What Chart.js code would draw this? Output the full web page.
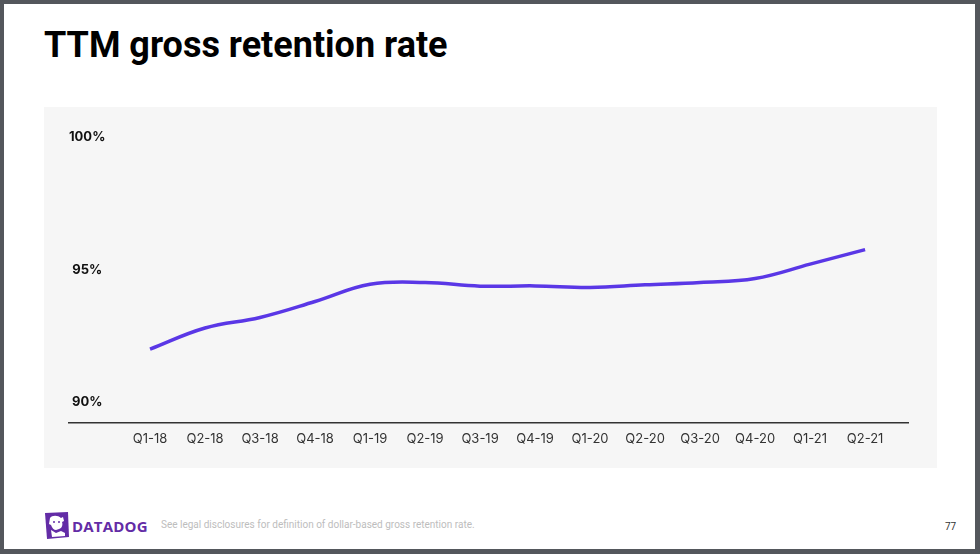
<!DOCTYPE html>
<html>
<head>
<meta charset="utf-8">
<script src="https://cdn.jsdelivr.net/npm/chart.js@4.4.1/dist/chart.umd.min.js"></script>
<style>
  html, body { margin: 0; padding: 0; }
  body { width: 980px; height: 554px; background: #54575c; position: relative; overflow: hidden; }
  #slide { position: absolute; left: 4px; top: 4px; width: 971px; height: 545px; background: #fff; }
  #title { position: absolute; left: 40px; top: 20px; margin: 0; font: bold 36px Roboto, sans-serif; color: #000; letter-spacing: 0; }
  #panel { position: absolute; left: 40px; top: 103px; width: 893px; height: 361px; background: #f6f6f6; }
  #chartWrap { position: absolute; left: 0; top: 0; width: 893px; height: 361px; }
  #logo { position: absolute; left: 40px; top: 508px; }
  #brand { position: absolute; left: 68px; top: 512px; font: bold 15px "Open Sans", sans-serif; color: #632ca6; letter-spacing: 0.2px; }
  #note { position: absolute; left: 157px; top: 515px; font: 10px Roboto, sans-serif; color: #bdbdbd; }
  #page { position: absolute; left: 941px; top: 517px; font: 10px Roboto, sans-serif; color: #333; }
</style>
</head>
<body>
<div id="slide">
  <h1 id="title">TTM gross retention rate</h1>
  <div id="panel">
    <div id="chartWrap"><canvas id="lineChart"></canvas></div>
  </div>
  <svg id="logo" width="26" height="28" viewBox="0 0 26 28">
    <polygon points="1,1 24,0 25,25 3,27" fill="#632ca6"/>
    <path d="M6,6 C8,3 14,3 17,6 L19,5 L20,9 L18,10 C19,13 18,16 15,17 L12,18 C10,18 8,16 7,13 L5,12 Z" fill="#fff"/>
    <path d="M7,18 L12,21 L17,19 L21,21 L21,24 L8,25 Z" fill="#fff"/>
    <circle cx="10" cy="10" r="1" fill="#632ca6"/>
    <circle cx="15" cy="10" r="1" fill="#632ca6"/>
  </svg>
  <div id="brand">DATADOG</div>
  <div id="note">See legal disclosures for definition of dollar-based gross retention rate.</div>
  <div id="page">77</div>
</div>
<script>
// 四半期ラベルと値（%）
const quarters = ['Q1-18','Q2-18','Q3-18','Q4-18','Q1-19','Q2-19','Q3-19','Q4-19','Q1-20','Q2-20','Q3-20','Q4-20','Q1-21','Q2-21'];
const retention = [92.0, 92.8, 93.2, 93.8, 94.45, 94.52, 94.38, 94.39, 94.33, 94.43, 94.52, 94.67, 95.21, 95.76];
const yTicks = [90, 95, 100];
const yTickLabels = ['90%', '95%', '100%'];

window.onload = function(){
    const ctx = document.getElementById('lineChart');
    const points = [];
    for (let i = 0; i < quarters.length; i++) {
        points.push({x: i, y: retention[i]});
    }

    let config = {
      type: 'line',
      data: {
        datasets: [{
          data: points,
          borderColor: '#5a37e6',
          borderWidth: 3.5,
          pointRadius: 0,
          tension: 0.4,
          fill: false,
        }],
      },
      options: {
        responsive: false,
        animation: false,
        layout: {
          padding: {left: 25, right: 29, top: 17, bottom: 13.5},
        },
        plugins: {
          legend: {display: false},
          tooltip: {enabled: false},
        },
        scales: {
          x: {
            type: 'linear',
            min: -1.473,
            max: 13.78,
            afterBuildTicks: function(axis){
              axis.ticks = quarters.map(function(q, i){ return {value: i}; });
            },
            ticks: {
              autoSkip: false,
              maxRotation: 0,
              padding: 8,
              color: '#333',
              font: {family: 'Inter', size: 13},
              callback: function(value){ return quarters[value]; },
            },
            grid: {display: false, drawTicks: false},
            border: {display: true, color: '#333', width: 1.5},
          },
          y: {
            min: 89.22,
            max: 100.5,
            afterBuildTicks: function(axis){
              axis.ticks = yTicks.map(function(v){ return {value: v}; });
            },
            ticks: {
              mirror: true,
              padding: 0,
              crossAlign: 'center',
              color: '#111',
              font: {family: 'Inter', size: 13, weight: 'bold'},
              callback: function(value){ return yTickLabels[yTicks.indexOf(value)]; },
            },
            grid: {display: false, drawTicks: false},
            border: {display: false},
          },
        },
      },
    };
    ctx.width = 893;
    ctx.height = 361;
    new Chart(ctx, config);
};
</script>
</body>
</html>
